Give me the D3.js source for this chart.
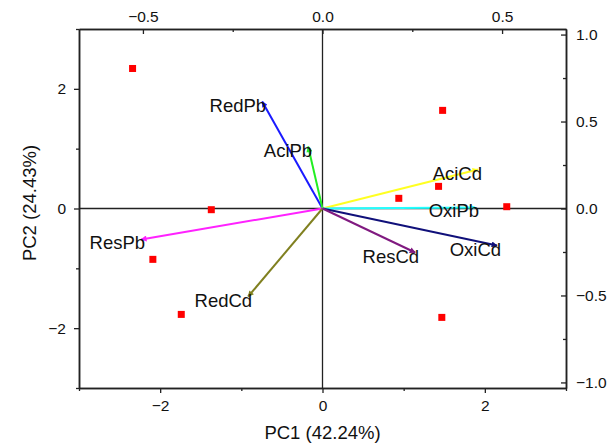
<!DOCTYPE html>
<html>
<head>
<meta charset="utf-8">
<script src="https://cdn.jsdelivr.net/npm/d3@7"></script>
<style>
  body { margin: 0; background: #fff; }
  svg text { font-family: "Liberation Sans", Arial, sans-serif; fill: #111; }
</style>
</head>
<body>
<svg id="chart"></svg>
<script>
// scores (samples) on PC1 / PC2
let scoreX = [-2.34, -1.37, -2.09, -1.74, 1.48, 1.43, 0.94, 2.27, 1.47];
let scoreY = [2.34, -0.02, -0.85, -1.77, 1.64, 0.37, 0.17, 0.03, -1.82];

// loadings (variables), read on the top / right axes
let varNames = ['RedPb', 'AciPb', 'ResPb', 'RedCd', 'AciCd', 'OxiPb', 'OxiCd', 'ResCd'];
let loadX = [-0.168, -0.040, -0.505, -0.207, 0.433, 0.425, 0.486, 0.258];
let loadY = [0.615, 0.356, -0.178, -0.506, 0.224, 0.006, -0.213, -0.253];
let varColors = ['#1a1aff', '#22ee22', '#ff22ff', '#808020', '#ffff22', '#22ffff', '#10107a', '#801a80'];

// tick values
let bottomTicks = [-2, 0, 2];
let bottomMinor = [-3, -1, 1, 3];
let leftTicks = [-2, 0, 2];
let leftMinor = [-3, -1, 1, 3];
let topTicks = [-0.5, 0, 0.5];
let topMinor = [-0.25, 0.25];
let rightTicks = [-1, -0.5, 0, 0.5, 1];
let rightMinor = [-0.75, -0.25, 0.25, 0.75];

let width = 614;
let height = 444;
let plotLeft = 79, plotRight = 566, plotTop = 29, plotBottom = 388;

let svg = d3.select('#chart').attr('width', width).attr('height', height);

let x = d3.scaleLinear().domain([-3, 3]).range([plotLeft, plotRight]);
let y = d3.scaleLinear().domain([-3, 3]).range([plotBottom, plotTop]);
let xTop = d3.scaleLinear().domain([-0.678, 0.678]).range([plotLeft, plotRight]);
let yRight = d3.scaleLinear().domain([-1.032, 1.032]).range([plotBottom, plotTop]);

let fmt1 = d3.format('.1f');

// zero lines
svg.append('line')
    .attr('x1', plotLeft).attr('x2', plotRight)
    .attr('y1', y(0)).attr('y2', y(0))
    .attr('stroke', '#222').attr('stroke-width', 1.3);
svg.append('line')
    .attr('x1', x(0)).attr('x2', x(0))
    .attr('y1', plotTop).attr('y2', plotBottom)
    .attr('stroke', '#222').attr('stroke-width', 1.3);

// axes
let styleAxis = (g, size) => {
    g.selectAll('path.domain').attr('stroke', '#222').attr('stroke-width', 1.5);
    g.selectAll('line').attr('stroke', '#222').attr('stroke-width', 1.3);
    g.selectAll('text').attr('font-size', size).attr('fill', '#111')
        .attr('font-family', '"Liberation Sans", Arial, sans-serif');
};

svg.append('g')
    .attr('transform', `translate(0, ${plotBottom})`)
    .call(d3.axisBottom(x).tickValues(bottomTicks).tickSize(5).tickPadding(7)
        .tickSizeOuter(0).tickFormat(d3.format('d')))
    .call(g => styleAxis(g, '15.5px'));
svg.append('g')
    .attr('transform', `translate(0, ${plotBottom})`)
    .call(d3.axisBottom(x).tickValues(bottomMinor).tickSize(3).tickSizeOuter(0).tickFormat(''))
    .call(g => styleAxis(g, '15.5px'));

svg.append('g')
    .attr('transform', `translate(${plotLeft}, 0)`)
    .call(d3.axisLeft(y).tickValues(leftTicks).tickSize(5).tickPadding(8)
        .tickSizeOuter(0).tickFormat(d3.format('d')))
    .call(g => styleAxis(g, '15.5px'));
svg.append('g')
    .attr('transform', `translate(${plotLeft}, 0)`)
    .call(d3.axisLeft(y).tickValues(leftMinor).tickSize(3).tickSizeOuter(0).tickFormat(''))
    .call(g => styleAxis(g, '15.5px'));

svg.append('g')
    .attr('transform', `translate(0, ${plotTop})`)
    .call(d3.axisTop(xTop).tickValues(topTicks).tickSize(-5).tickPadding(7)
        .tickSizeOuter(0).tickFormat(fmt1))
    .call(g => styleAxis(g, '15.5px'));
svg.append('g')
    .attr('transform', `translate(0, ${plotTop})`)
    .call(d3.axisTop(xTop).tickValues(topMinor).tickSize(-3).tickSizeOuter(0).tickFormat(''))
    .call(g => styleAxis(g, '15.5px'));

svg.append('g')
    .attr('transform', `translate(${plotRight}, 0)`)
    .call(d3.axisRight(yRight).tickValues(rightTicks).tickSize(-5).tickPadding(10)
        .tickSizeOuter(0).tickFormat(fmt1))
    .call(g => styleAxis(g, '15.5px'));
svg.append('g')
    .attr('transform', `translate(${plotRight}, 0)`)
    .call(d3.axisRight(yRight).tickValues(rightMinor).tickSize(-3).tickSizeOuter(0).tickFormat(''))
    .call(g => styleAxis(g, '15.5px'));

// axis titles
svg.append('text')
    .attr('x', x(0)).attr('y', 439)
    .attr('text-anchor', 'middle')
    .attr('font-size', '18.5px')
    .text('PC1 (42.24%)');
svg.append('text')
    .attr('transform', `translate(36, 203) rotate(-90)`)
    .attr('text-anchor', 'middle')
    .attr('font-size', '18.5px')
    .text('PC2 (24.43%)');

// arrow markers, one per colour
let defs = svg.append('defs');
varColors.forEach((c, i) => {
    defs.append('marker')
        .attr('id', 'arrow' + i)
        .attr('viewBox', '0 0 10 10')
        .attr('refX', 9).attr('refY', 5)
        .attr('markerWidth', 8).attr('markerHeight', 6)
        .attr('markerUnits', 'userSpaceOnUse')
        .attr('orient', 'auto')
        .append('path')
        .attr('d', 'M0,0 L10,5 L0,10 z')
        .attr('fill', c);
});

// score points
svg.selectAll('rect.score')
    .data(scoreX)
    .enter()
    .append('rect')
    .attr('class', 'score')
    .attr('x', (d) => x(d) - 3.5)
    .attr('y', (d, i) => y(scoreY[i]) - 3.5)
    .attr('width', 7)
    .attr('height', 7)
    .attr('fill', '#ff0000');

// loading arrows
svg.selectAll('line.load')
    .data(varNames)
    .enter()
    .append('line')
    .attr('class', 'load')
    .attr('x1', xTop(0)).attr('y1', yRight(0))
    .attr('x2', (d, i) => xTop(loadX[i]))
    .attr('y2', (d, i) => yRight(loadY[i]))
    .attr('stroke', (d, i) => varColors[i])
    .attr('stroke-width', 2)
    .attr('marker-end', (d, i) => `url(#arrow${i})`);

// loading labels
svg.selectAll('text.load')
    .data(varNames)
    .enter()
    .append('text')
    .attr('class', 'load')
    .attr('x', (d, i) => xTop(loadX[i]) + 4)
    .attr('y', (d, i) => yRight(loadY[i]) + 10)
    .attr('text-anchor', 'end')
    .attr('font-size', '18.5px')
    .text((d) => d);
</script>
</body>
</html>
